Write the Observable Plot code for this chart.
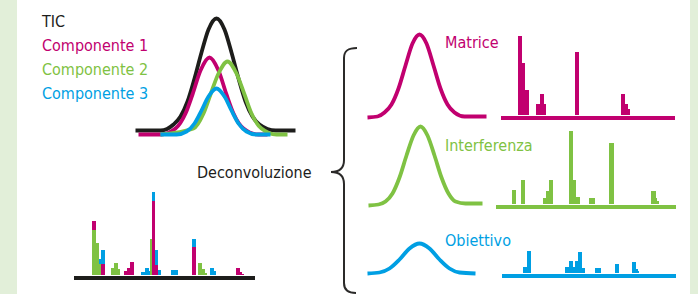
<!DOCTYPE html>
<html><head><meta charset="utf-8">
<script src="https://cdn.jsdelivr.net/npm/d3@7"></script>
<script src="https://cdn.jsdelivr.net/npm/@observablehq/plot@0.6"></script>
<style>
html,body{margin:0;padding:0;background:#fff;}
#stage{position:relative;width:698px;height:294px;overflow:hidden;background:#fff;}
.strip{position:absolute;top:0;height:294px;background:#e2efd9;}
.panel{position:absolute;}
.panel svg{display:block;overflow:visible;}
#overlay{position:absolute;left:0;top:0;}
</style></head><body><div id="stage"></div>
<script>
// ---------- data ----------
const legendLabels = ["TIC", "Componente 1", "Componente 2", "Componente 3"];
const componentNames = ["Matrice", "Interferenza", "Obiettivo"];
const centerLabel = "Deconvoluzione";

// overlaid chromatogram [time, intensity]
const ticCurve = [[5,4],[30,4],[43,10],[50,18],[57,33],[64,56],[71,82],[78,105],[86,116],[94,105],[101,82],[108,56],[115,33],[122,18],[129,10],[145,4],[165,4]];
const comp1Curve = [[8,0],[30,0],[45,6],[55,21],[62,40],[70,64],[79,77],[88,64],[96,40],[103,21],[113,6],[128,0],[137,0]];
const comp2Curve = [[30,0],[63,6],[73,21],[80,40],[88,61],[97,73],[106,61],[114,40],[121,21],[131,6],[146,0],[157,0]];
const comp3Curve = [[30,0],[46,0],[56,3],[64,11],[71,24],[78,38],[86,46],[94,38],[101,24],[108,11],[116,3],[126,0],[140,0]];

// deconvolved chromatograms [time, intensity]
const matriceCurve = [[7,0],[17,1],[24,5],[31,13],[38,29],[45,52],[52,74],[59,83],[66,74],[73,52],[80,29],[87,13],[94,5],[104,1],[126,1]];
const interfCurve = [[8,0],[18,1],[25,4],[32,12],[39,28],[46,50],[53,70],[60,79],[67,70],[74,50],[81,28],[88,12],[95,4],[105,2],[122,2]];
const obiettivoCurve = [[7,0],[19,1],[29,5],[39,14],[49,25],[59,30],[69,25],[79,14],[89,5],[99,1],[115,0]];

// spectra: [mzStart, mzEnd, intensity]
const matriceRange = [11, 185];
const matriceSpectrum = [[28,32,79],[32,35,52],[35,39,25],[46,50,11],[50,54,21],[54,56,11],[85,89,63],[131,135,21],[135,138,11],[138,140,6]];
const interfRange = [6, 186];
const interfSpectrum = [[22,26,14],[31,35,24],[53,56,6],[56,59,13],[59,63,24],[79,83,73],[83,86,24],[86,90,7],[99,105,6],[119,124,61],[161,166,13],[166,167,6],[167,169,3]];
const obiettivoRange = [12, 186];
const obiettivoSpectrum = [[33,37,6],[37,41,22],[75,79,6],[79,83,12],[83,85,6],[85,88,12],[88,92,21],[92,95,5],[105,111,5],[125,129,9],[142,146,11],[146,148,4],[148,149,2]];

// mixed spectrum: [mzStart, mzEnd, component index, intensity], stacked bottom->top
const mixRange = [14, 195];
const mixSpectrum = [
  [32,36,1,45],[32,36,0,9],
  [36,39,1,32],
  [39,41,1,11],[39,41,2,5],
  [41,45,0,11],[41,45,2,14],
  [51,54,1,7],[54,58,1,12],[58,60,1,6],
  [64,67,0,4],[67,70,0,7],[70,74,0,13],
  [81,85,2,3],[85,89,2,7],[89,90,2,4],
  [90,92,1,36],
  [92,95,0,74],[92,95,2,9],
  [95,98,0,10],[95,98,2,15],
  [98,101,2,5],
  [111,118,2,5],
  [132,136,0,28],[132,136,2,8],
  [138,142,1,12],[142,145,1,6],[145,147,1,2],
  [150,154,2,7],[154,156,2,4],
  [176,180,0,7],[180,182,0,3],[182,184,0,1]
];

// ---------- style ----------
const BLACK = "#1d1d1b", MAG = "#c1006f", GRN = "#7fc243", BLU = "#009fe3";
const compColors = [MAG, GRN, BLU];
const FONT = "'DejaVu Sans Condensed','DejaVu Sans',sans-serif";

const stage = document.getElementById("stage");
function strip(left, width) {
  const d = document.createElement("div"); d.className = "strip";
  d.style.left = left + "px"; d.style.width = width + "px"; stage.appendChild(d);
}
strip(0, 17); strip(690, 8);

function panel(left, top, width, height, xDomain, yDomain, marks, extra = {}) {
  const svg = Plot.plot({
    width, height, margin: 0,
    x: {domain: xDomain, axis: null},
    y: {domain: yDomain, axis: null},
    style: {background: "transparent", overflow: "visible"},
    marks, ...extra
  });
  const div = document.createElement("div"); div.className = "panel";
  div.style.left = left + "px"; div.style.top = top + "px";
  div.appendChild(svg); stage.appendChild(div);
}
const lineOpts = (stroke, w) => ({x: d => d[0], y: d => d[1], stroke, strokeWidth: w, curve: "monotone-x", strokeLinecap: "butt"});

// overlaid chromatogram
panel(130, 10, 170, 130, [0, 170], [-6, 124], [
  Plot.line(ticCurve, lineOpts(BLACK, 3.8)),
  Plot.line(comp1Curve, lineOpts(MAG, 3.8)),
  Plot.line(comp2Curve, lineOpts(GRN, 3.8)),
  Plot.line(comp3Curve, lineOpts(BLU, 3.8))
]);

// deconvolved chromatograms
panel(360, 24, 130, 100, [0, 130], [-7, 93], [Plot.line(matriceCurve, lineOpts(MAG, 3.8))]);
panel(360, 112, 130, 100, [0, 130], [-7, 93], [Plot.line(interfCurve, lineOpts(GRN, 3.8))]);
panel(360, 180, 130, 100, [0, 130], [-7, 93], [Plot.line(obiettivoCurve, lineOpts(BLU, 3.8))]);

// component spectra
function spectrum(range, bars, color, top) {
  panel(490 + range[0], top, range[1] - range[0], 90, range, [-5, 85], [
    Plot.rect(bars, {x1: d => d[0], x2: d => d[1], y1: 0, y2: d => d[2], fill: color, shapeRendering: "crispEdges"}),
    Plot.ruleY([0], {stroke: color, strokeWidth: 4, dy: 2, shapeRendering: "crispEdges"})
  ]);
}
spectrum(matriceRange, matriceSpectrum, MAG, 30);
spectrum(interfRange, interfSpectrum, GRN, 119);
spectrum(obiettivoRange, obiettivoSpectrum, BLU, 188);

// mixed spectrum, stacked
const sums = new Map();
const mixRows = mixSpectrum.map(([a, b, c, v]) => {
  const base = sums.get(a) || 0; sums.set(a, base + v);
  return {x1: a, x2: b, comp: componentNames[c], y1: base, y2: base + v};
});
panel(60 + mixRange[0], 190, mixRange[1] - mixRange[0], 90, mixRange, [-5, 85], [
  Plot.rect(mixRows, {x1: "x1", x2: "x2", y1: "y1", y2: "y2", fill: "comp", shapeRendering: "crispEdges"}),
  Plot.ruleY([0], {stroke: BLACK, strokeWidth: 4, dy: 2, shapeRendering: "crispEdges"})
], {color: {domain: componentNames, range: compColors}});

// overlay: texts and brace
const svg = d3.select(stage).append("svg").attr("id", "overlay").attr("width", 698).attr("height", 294);
const legendColors = [BLACK, MAG, GRN, BLU];
legendLabels.forEach((t, i) => {
  svg.append("text").attr("x", 42).attr("y", 27 + i * 24).attr("fill", legendColors[i])
    .attr("font-family", FONT).attr("font-size", 16).text(t);
});
const compY = [47.5, 150.5, 246];
componentNames.forEach((t, i) => {
  svg.append("text").attr("x", 445).attr("y", compY[i]).attr("fill", compColors[i])
    .attr("font-family", FONT).attr("font-size", 16).text(t);
});
svg.append("text").attr("x", 197).attr("y", 178).attr("fill", BLACK)
  .attr("font-family", FONT).attr("font-size", 16).text(centerLabel);
svg.append("path")
  .attr("d", "M357,48 C349,48 344,50 344,58 L344,160 C344,168 340,172 331,172 C340,172 344,176 344,184 L344,283 C344,290 348,293 356,293")
  .attr("fill", "none").attr("stroke", "#2b2a29").attr("stroke-width", 2);
</script></body></html>
